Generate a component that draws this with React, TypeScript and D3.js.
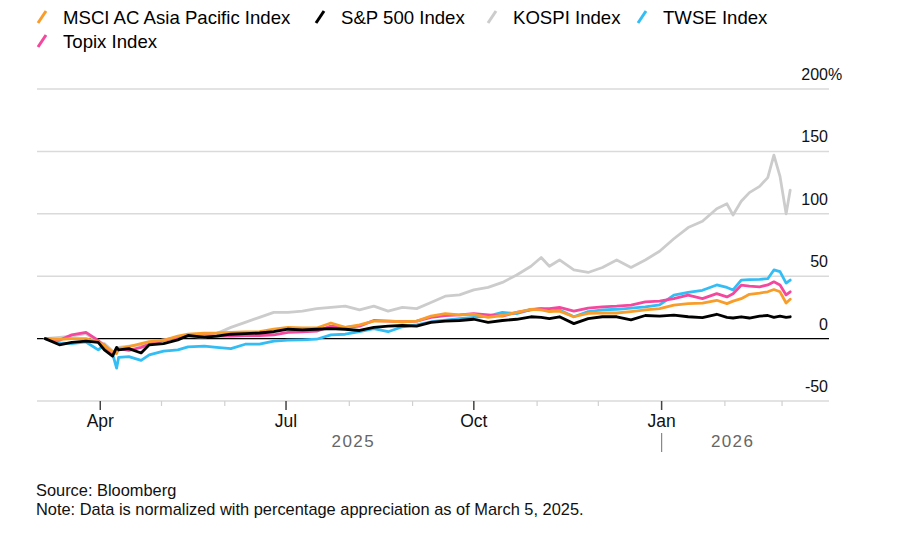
import * as d3 from 'd3';

// Sample dates (weekly-ish, with extra points around sharp moves)
const dates = [
  '2025-03-05', '2025-03-12', '2025-03-18', '2025-03-25', '2025-03-31', '2025-04-03', '2025-04-07',
  '2025-04-09', '2025-04-10', '2025-04-15', '2025-04-21', '2025-04-25', '2025-05-02', '2025-05-09',
  '2025-05-14', '2025-05-22', '2025-05-28', '2025-06-04', '2025-06-11', '2025-06-18', '2025-06-25',
  '2025-07-02', '2025-07-09', '2025-07-16', '2025-07-23', '2025-07-30', '2025-08-06', '2025-08-13',
  '2025-08-20', '2025-08-27', '2025-09-03', '2025-09-10', '2025-09-17', '2025-09-24', '2025-10-01',
  '2025-10-08', '2025-10-15', '2025-10-22', '2025-10-29', '2025-11-03', '2025-11-07', '2025-11-12',
  '2025-11-19', '2025-11-26', '2025-12-03', '2025-12-10', '2025-12-17', '2025-12-24', '2025-12-31',
  '2026-01-07', '2026-01-14', '2026-01-21', '2026-01-28', '2026-02-02', '2026-02-05', '2026-02-09',
  '2026-02-13', '2026-02-18', '2026-02-22', '2026-02-25', '2026-02-28', '2026-03-03', '2026-03-05',
];

const msci = [
  0, -0.7, 0, 0, -2.7, -5.5, -10.7, -12, -8, -6.5, -4, -2.5, -1.3, 2,
  3.5, 4.3, 4.5, 5, 5.3, 5.5, 7.5, 9, 8.5, 8.5, 12.5, 9, 11, 14,
  14, 13.5, 14, 18, 20, 19, 19.5, 17, 18.5, 21, 23.4, 23, 21.7, 22,
  17.5, 20.3, 20.5, 20.5, 21.7, 23, 24, 26.8, 28, 28.5, 30.7, 28, 30, 32,
  35.5, 36.5, 37.5, 39.3, 37.5, 28.5, 31.5,
];

const sp500 = [
  0, -5, -3, -2, -3, -9, -14, -7, -9, -8, -11.5, -5, -4, -1,
  2.5, 1, 2, 3.5, 4, 4.5, 5.5, 7.5, 7, 7.5, 8, 7.5, 6.5, 9,
  10, 10.5, 10, 13, 14, 14.5, 15.5, 13, 14.5, 15.5, 17.5, 17, 16, 17.5,
  12, 16, 17.5, 17.5, 15, 18.5, 18, 18.8, 17.5, 16.8, 19.5, 17, 16.5, 17.5,
  16.5, 18, 18.5, 17, 18, 17, 17.5,
];

const kospi = [
  0, 1, 2, 4, -3, -4, -10, -11, -7, -6, -5, -3, -1, 1,
  2, 1, 4, 9, 13, 17, 21, 21, 22, 24, 25, 26, 23, 26,
  22, 25, 24, 29, 34, 35, 39, 41, 45, 51, 58, 65, 58, 63,
  55, 53, 57, 63, 57, 63, 70, 80, 89, 94, 104, 108, 99, 110,
  117, 122, 129, 147, 130, 100, 119,
];

const twse = [
  0, -3.4, -4, -2.7, -9, -5, -12, -23.7, -15, -14.5, -17.4, -13, -10, -9,
  -6.7, -6, -7, -8, -4.5, -4.5, -2, -1.3, -1, -0.5, 3, 3.5, 5.5, 8,
  5.5, 9.5, 11, 13.5, 14.8, 16, 17, 18, 21, 20, 23.4, 24, 22, 23,
  17.5, 21.7, 23, 23.5, 24.5, 25.5, 27, 34.8, 37, 38.7, 43, 41, 39, 46.9,
  47.2, 47.5, 48, 55, 53.6, 44.5, 46.9,
];

const topix = [
  0, -1.3, 3, 5, -1.5, -6, -12, -9, -8, -9.4, -7, -4.5, -1.5, 1,
  2, 2.5, 2, 2, 2.5, 2.5, 3, 5, 5.5, 6, 10, 9, 10, 14.5,
  14, 13.5, 14, 17, 18.5, 19, 20, 19, 18, 21, 23, 24, 24, 25,
  22, 24.5, 25.5, 26, 26.8, 29.5, 30, 32, 34.8, 32, 36, 33.4, 36, 42.8,
  42, 41.5, 43, 45.5, 43, 35, 37.5,
];

const yTicks = [200, 150, 100, 50, 0, -50];
const yearLabels = ['2025', '2026'];

const series = [
  { name: 'MSCI AC Asia Pacific Index', values: msci, color: '#f99d2a' },
  { name: 'S&P 500 Index', values: sp500, color: '#000000' },
  { name: 'KOSPI Index', values: kospi, color: '#cccccc' },
  { name: 'TWSE Index', values: twse, color: '#33bdf5' },
  { name: 'Topix Index', values: topix, color: '#f4489e' },
];

// drawing order: grey at the back, black on top
const drawOrder = ['KOSPI Index', 'TWSE Index', 'Topix Index', 'MSCI AC Asia Pacific Index', 'S&P 500 Index'];

const legendRows = [
  [
    { name: 'MSCI AC Asia Pacific Index', x: 38 },
    { name: 'S&P 500 Index', x: 316 },
    { name: 'KOSPI Index', x: 488 },
    { name: 'TWSE Index', x: 638 },
  ],
  [{ name: 'Topix Index', x: 38 }],
];

const W = 900;
const H = 545;
const FONT = '"Liberation Sans", Arial, Helvetica, sans-serif';

export default function App() {
  const parse = d3.timeParse('%Y-%m-%d');
  const parsed = dates.map(d => parse(d) as Date);

  const x = d3.scaleTime()
    .domain([new Date(2025, 2, 1), new Date(2026, 2, 24)])
    .range([37, 829]);
  const y = d3.scaleLinear().domain([-50, 200]).range([401, 89]);

  const line = d3.line<number>()
    .x((_, i) => x(parsed[i]))
    .y(v => y(v));

  const months = d3.timeMonth.range(new Date(2025, 3, 1), new Date(2026, 2, 2));
  const isMajor = (d: Date) => d.getMonth() % 3 === 0;
  const fmt = d3.timeFormat('%b');
  const jan = x(new Date(2026, 0, 1));
  const [x0, x1] = x.range();

  const colorOf = (name: string) => series.find(s => s.name === name)!.color;

  return (
    <div style={{ position: 'absolute', left: 0, top: 0 }}>
      <svg width={W} height={H} style={{ display: 'block', background: '#fff' }} fontFamily={FONT}>
        {/* Legend */}
        {legendRows.map((row, ri) =>
          row.map(item => {
            const cy = 17 + ri * 24;
            return (
              <g key={item.name}>
                <line
                  x1={item.x}
                  y1={cy + 6}
                  x2={item.x + 8}
                  y2={cy - 6}
                  stroke={colorOf(item.name)}
                  strokeWidth={3}
                />
                <text x={item.x + 25} y={cy + 6.5} fontSize={18.6} fill="#000">
                  {item.name}
                </text>
              </g>
            );
          })
        )}

        {/* Grid */}
        {yTicks.map(t => (
          <g key={t}>
            <line
              x1={x0}
              x2={x1}
              y1={y(t)}
              y2={y(t)}
              stroke={t === 0 ? '#000' : '#dadada'}
              strokeWidth={t === 0 ? 1.3 : 1.5}
            />
            <text x={828} y={y(t) - 9} fontSize={16} textAnchor="end" fill="#111">
              {t}
            </text>
            {t === 200 && (
              <text x={828} y={y(t) - 9} fontSize={16} fill="#111">%</text>
            )}
          </g>
        ))}

        {/* X ticks */}
        {months.map(m => (
          <g key={m.toISOString()}>
            <line
              x1={x(m)}
              x2={x(m)}
              y1={y(-50)}
              y2={y(-50) + (isMajor(m) ? 9 : 5)}
              stroke={isMajor(m) ? '#444' : '#d0d0d0'}
              strokeWidth={isMajor(m) ? 1.5 : 1.2}
            />
            {isMajor(m) && (
              <text x={x(m)} y={427} fontSize={17.5} textAnchor="middle" fill="#111">
                {fmt(m)}
              </text>
            )}
          </g>
        ))}
        <text x={(x0 + jan) / 2 + 4} y={447} fontSize={17} textAnchor="middle" fill="#666" letterSpacing={1.4}>
          {yearLabels[0]}
        </text>
        <line x1={jan} x2={jan} y1={433} y2={452} stroke="#888" strokeWidth={1.2} />
        <text x={jan + 71} y={447} fontSize={17} textAnchor="middle" fill="#666" letterSpacing={1.4}>
          {yearLabels[1]}
        </text>

        {/* Lines */}
        {drawOrder.map(name => {
          const s = series.find(ss => ss.name === name)!;
          return (
            <path
              key={name}
              d={line(s.values) || ''}
              fill="none"
              stroke={s.color}
              strokeWidth={2.8}
              strokeLinejoin="round"
              strokeLinecap="round"
            />
          );
        })}

        {/* Footer */}
        <text x={36} y={496} fontSize={16.4} fill="#111">Source: Bloomberg</text>
        <text x={36} y={515} fontSize={16.4} fill="#111">
          Note: Data is normalized with percentage appreciation as of March 5, 2025.
        </text>
      </svg>
    </div>
  );
}
